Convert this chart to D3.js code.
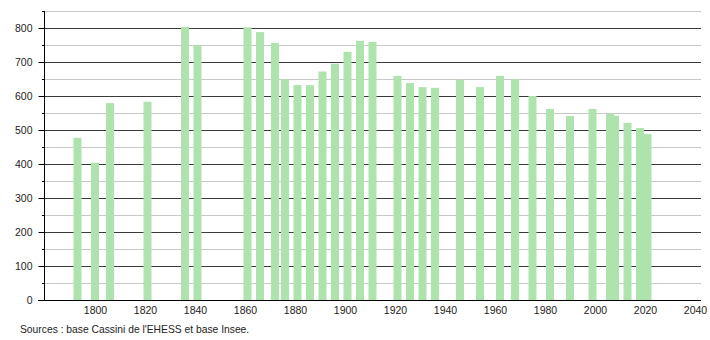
<!DOCTYPE html>
<html>
<head>
<meta charset="utf-8">
<script src="https://cdn.jsdelivr.net/npm/d3@7"></script>
<style>
  body { margin: 0; background: #fff; }
  svg { font-family: "Liberation Sans", Arial, sans-serif; }
</style>
</head>
<body>
<svg width="710" height="340"></svg>
<script>
// census years and population
const years = [1793, 1800, 1806, 1821, 1836, 1841, 1861, 1866, 1872, 1876, 1881, 1886,
  1891, 1896, 1901, 1906, 1911, 1921, 1926, 1931, 1936, 1946, 1954, 1962, 1968,
  1975, 1982, 1990, 1999, 2006, 2008, 2013, 2018, 2021];
const population = [477, 404, 579, 583, 803, 749, 802, 788, 756, 649, 632, 632,
  672, 695, 730, 762, 759, 659, 638, 626, 624, 648, 626, 659, 649,
  600, 562, 541, 562, 548, 542, 521, 506, 488];
const xTicks = [1800, 1820, 1840, 1860, 1880, 1900, 1920, 1940, 1960, 1980, 2000, 2020, 2040];
const yTicks = [0, 100, 200, 300, 400, 500, 600, 700, 800];
const yMinor = [50, 150, 250, 350, 450, 550, 650, 750, 850];
const source = "Sources : base Cassini de l'EHESS et base Insee.";

const data = years.map((y, i) => ({ year: y, value: population[i] }));

const svg = d3.select('svg');
const plotLeft = 44, plotRight = 701, plotTop = 11, plotBottom = 300;

const x = d3.scaleLinear().domain([1779.6, 2042.4]).range([plotLeft, plotRight]);
const y = d3.scaleLinear().domain([0, 850]).range([plotBottom, plotTop]);

// minor gridlines
svg.append('g')
  .selectAll('line')
  .data(yMinor)
  .join('line')
  .attr('x1', plotLeft).attr('x2', plotRight)
  .attr('y1', d => y(d) + 0.5).attr('y2', d => y(d) + 0.5)
  .attr('stroke', '#c8c8c8');

// major gridlines
svg.append('g')
  .selectAll('line')
  .data(yTicks.filter(d => d > 0))
  .join('line')
  .attr('x1', plotLeft).attr('x2', plotRight)
  .attr('y1', d => y(d) + 0.5).attr('y2', d => y(d) + 0.5)
  .attr('stroke', '#3a3a3a');

// bars
const barW = 8;
svg.append('g')
  .selectAll('rect')
  .data(data)
  .join('rect')
  .attr('x', d => x(d.year) - barW / 2)
  .attr('y', d => y(d.value))
  .attr('width', barW)
  .attr('height', d => y(0) - y(d.value))
  .attr('fill', '#aee3ae');

// y axis
const yAxis = svg.append('g')
  .attr('transform', `translate(${plotLeft + 0.5},0)`)
  .call(d3.axisLeft(y).tickValues(yTicks).tickSize(6).tickPadding(6).tickFormat(d3.format('d')));
yAxis.select('.domain').attr('d', `M0,${plotTop}V${plotBottom}`).attr('stroke', '#000');
yAxis.selectAll('.tick line').attr('stroke', '#000');
yAxis.selectAll('.tick text').attr('font-size', 10.5).attr('fill', '#222');

svg.append('g')
  .selectAll('line')
  .data(yMinor)
  .join('line')
  .attr('x1', plotLeft - 2).attr('x2', plotLeft)
  .attr('y1', d => y(d) + 0.5).attr('y2', d => y(d) + 0.5)
  .attr('stroke', '#000');

// x axis
const xAxis = svg.append('g')
  .attr('transform', `translate(0,${plotBottom + 0.5})`)
  .call(d3.axisBottom(x).tickValues(xTicks).tickSize(0).tickPadding(6).tickFormat(d3.format('d')));
xAxis.select('.domain').attr('d', `M${plotLeft - 6},0H${plotRight}`).attr('stroke', '#000');
xAxis.selectAll('.tick text').attr('font-size', 10.5).attr('fill', '#222');

svg.append('text')
  .attr('x', 20)
  .attr('y', 333)
  .attr('font-size', 10.3)
  .attr('fill', '#222')
  .text(source);
</script>
</body>
</html>
